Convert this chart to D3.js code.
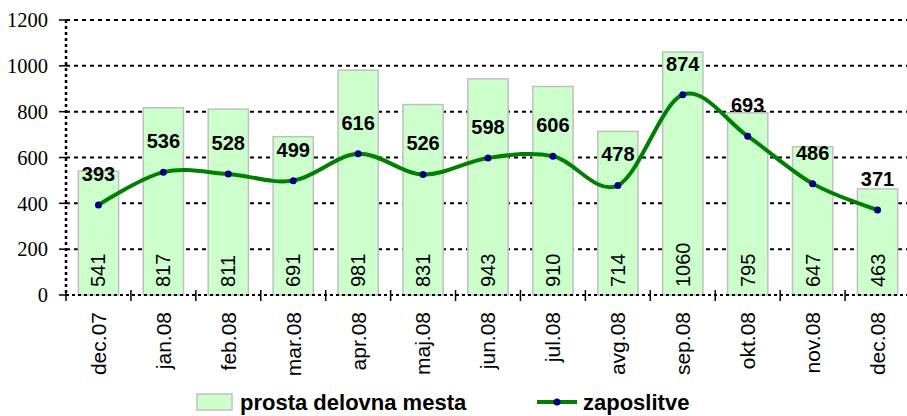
<!DOCTYPE html>
<html>
<head>
<meta charset="utf-8">
<script src="https://cdn.jsdelivr.net/npm/d3@7"></script>
<style>
    body { margin: 0; background: #fff; }
    svg { display: block; }
</style>
</head>
<body>
<div id="chart"></div>
<script>
const months = ['dec.07', 'jan.08', 'feb.08', 'mar.08', 'apr.08', 'maj.08', 'jun.08',
    'jul.08', 'avg.08', 'sep.08', 'okt.08', 'nov.08', 'dec.08'];
const vacancies = [541, 817, 811, 691, 981, 831, 943, 910, 714, 1060, 795, 647, 463];
const hires = [393, 536, 528, 499, 616, 526, 598, 606, 478, 874, 693, 486, 371];
const yTicks = [0, 200, 400, 600, 800, 1000, 1200];
const seriesNames = ['prosta delovna mesta', 'zaposlitve'];

const width = 907;
const height = 416;
const margin = {top: 20, right: -3, bottom: 121, left: 66}; // plot runs a bit past the right edge
const w = width - margin.left - margin.right;
const h = height - margin.top - margin.bottom;

const svg = d3.select('#chart').append('svg')
    .attr('width', width)
    .attr('height', height);

const g = svg.append('g')
    .attr('transform', 'translate(' + margin.left + ',' + margin.top + ')');

const x = d3.scaleBand()
    .domain(months)
    .range([0, w])
    .paddingInner(0.38)
    .paddingOuter(0.19);

const y = d3.scaleLinear()
    .domain([0, 1200])
    .range([h, 0]);

const cx = (i) => x(months[i]) + x.bandwidth() / 2;

// grid lines
g.selectAll('.grid')
    .data(yTicks.filter((d) => d > 0))
    .enter()
.append('line')
    .attr('class', 'grid')
    .attr('x1', 0)
    .attr('x2', w)
    .attr('y1', (d) => y(d))
    .attr('y2', (d) => y(d))
    .style('stroke', '#000')
    .style('stroke-width', 2)
    .style('stroke-dasharray', '4,4');

// bars
g.selectAll('.bar')
    .data(vacancies)
    .enter()
.append('rect')
    .attr('class', 'bar')
    .attr('x', (d, i) => x(months[i]))
    .attr('y', (d) => y(d))
    .attr('width', x.bandwidth())
    .attr('height', (d) => h - y(d))
    .style('fill', '#ccffcc')
    .style('stroke', '#c0c0c0')
    .style('stroke-width', 1.5);

// bar value labels (rotated, inside bottom)
g.selectAll('.bar-label')
    .data(vacancies)
    .enter()
.append('text')
    .attr('class', 'bar-label')
    .attr('transform', (d, i) => 'translate(' + cx(i) + ',' + (h - 8) + ') rotate(-90)')
    .attr('dy', '0.35em')
    .style('font', '20px "Liberation Sans", Arial, sans-serif')
    .style('fill', '#000')
    .text((d) => d);

// y axis
const yAxis = g.append('g').attr('class', 'axis axis--y');
yAxis.append('line')
    .attr('x1', 0).attr('x2', 0)
    .attr('y1', 0).attr('y2', h)
    .style('stroke', '#000')
    .style('stroke-width', 2.5)
    .style('stroke-dasharray', '3,3');
yAxis.selectAll('.tick')
    .data(yTicks)
    .enter()
.append('line')
    .attr('x1', -7).attr('x2', 0)
    .attr('y1', (d) => y(d)).attr('y2', (d) => y(d))
    .style('stroke', '#000')
    .style('stroke-width', 1.5);
yAxis.selectAll('.tick-label')
    .data(yTicks)
    .enter()
.append('text')
    .attr('x', -18)
    .attr('y', (d) => y(d))
    .attr('dy', '0.35em')
    .attr('text-anchor', 'end')
    .style('font', '20.5px "Liberation Serif", "Times New Roman", serif')
    .text((d) => d);

// x axis
const xAxis = g.append('g').attr('class', 'axis axis--x');
xAxis.append('line')
    .attr('x1', 0).attr('x2', w)
    .attr('y1', h).attr('y2', h)
    .style('stroke', '#000')
    .style('stroke-width', 2)
    .style('stroke-dasharray', '3,3');
xAxis.selectAll('.tick')
    .data(d3.range(months.length + 1))
    .enter()
.append('line')
    .attr('x1', (i) => i * x.step())
    .attr('x2', (i) => i * x.step())
    .attr('y1', h - 5).attr('y2', h + 6)
    .style('stroke', '#000')
    .style('stroke-width', 1.5);
xAxis.selectAll('.tick-label')
    .data(months)
    .enter()
.append('text')
    .attr('transform', (d, i) => 'translate(' + cx(i) + ',' + (h + 17) + ') rotate(-90)')
    .attr('dy', '0.35em')
    .attr('text-anchor', 'end')
    .style('font', '21px "Liberation Sans", Arial, sans-serif')
    .text((d) => d);

// line
const line = d3.line()
    .curve(d3.curveCardinal.tension(0))
    .x((d, i) => cx(i))
    .y((d) => y(d));

g.append('path')
    .datum(hires)
    .attr('class', 'line')
    .attr('d', line)
    .style('fill', 'none')
    .style('stroke', '#008000')
    .style('stroke-width', 4);

g.selectAll('.dot')
    .data(hires)
    .enter()
.append('circle')
    .attr('class', 'dot')
    .attr('cx', (d, i) => cx(i))
    .attr('cy', (d) => y(d))
    .attr('r', 3.5)
    .style('fill', '#000080');

g.selectAll('.line-label')
    .data(hires)
    .enter()
.append('text')
    .attr('class', 'line-label')
    .attr('x', (d, i) => cx(i))
    .attr('y', (d) => y(d) - 24)
    .attr('text-anchor', 'middle')
    .style('font', 'bold 20px "Liberation Sans", Arial, sans-serif')
    .text((d) => d);

// legend
const legend = svg.append('g').attr('class', 'legend');
legend.append('rect')
    .attr('x', 197).attr('y', 394)
    .attr('width', 35).attr('height', 16)
    .style('fill', '#ccffcc')
    .style('stroke', '#c0c0c0')
    .style('stroke-width', 1.5);
legend.append('text')
    .attr('x', 240).attr('y', 410)
    .style('font', 'bold 22px "Liberation Sans", Arial, sans-serif')
    .text(seriesNames[0]);
legend.append('line')
    .attr('x1', 537).attr('x2', 577)
    .attr('y1', 402).attr('y2', 402)
    .style('stroke', '#008000')
    .style('stroke-width', 4);
legend.append('circle')
    .attr('cx', 557).attr('cy', 402).attr('r', 3.5)
    .style('fill', '#000080');
legend.append('text')
    .attr('x', 583).attr('y', 410)
    .style('font', 'bold 22px "Liberation Sans", Arial, sans-serif')
    .text(seriesNames[1]);
</script>
</body>
</html>
